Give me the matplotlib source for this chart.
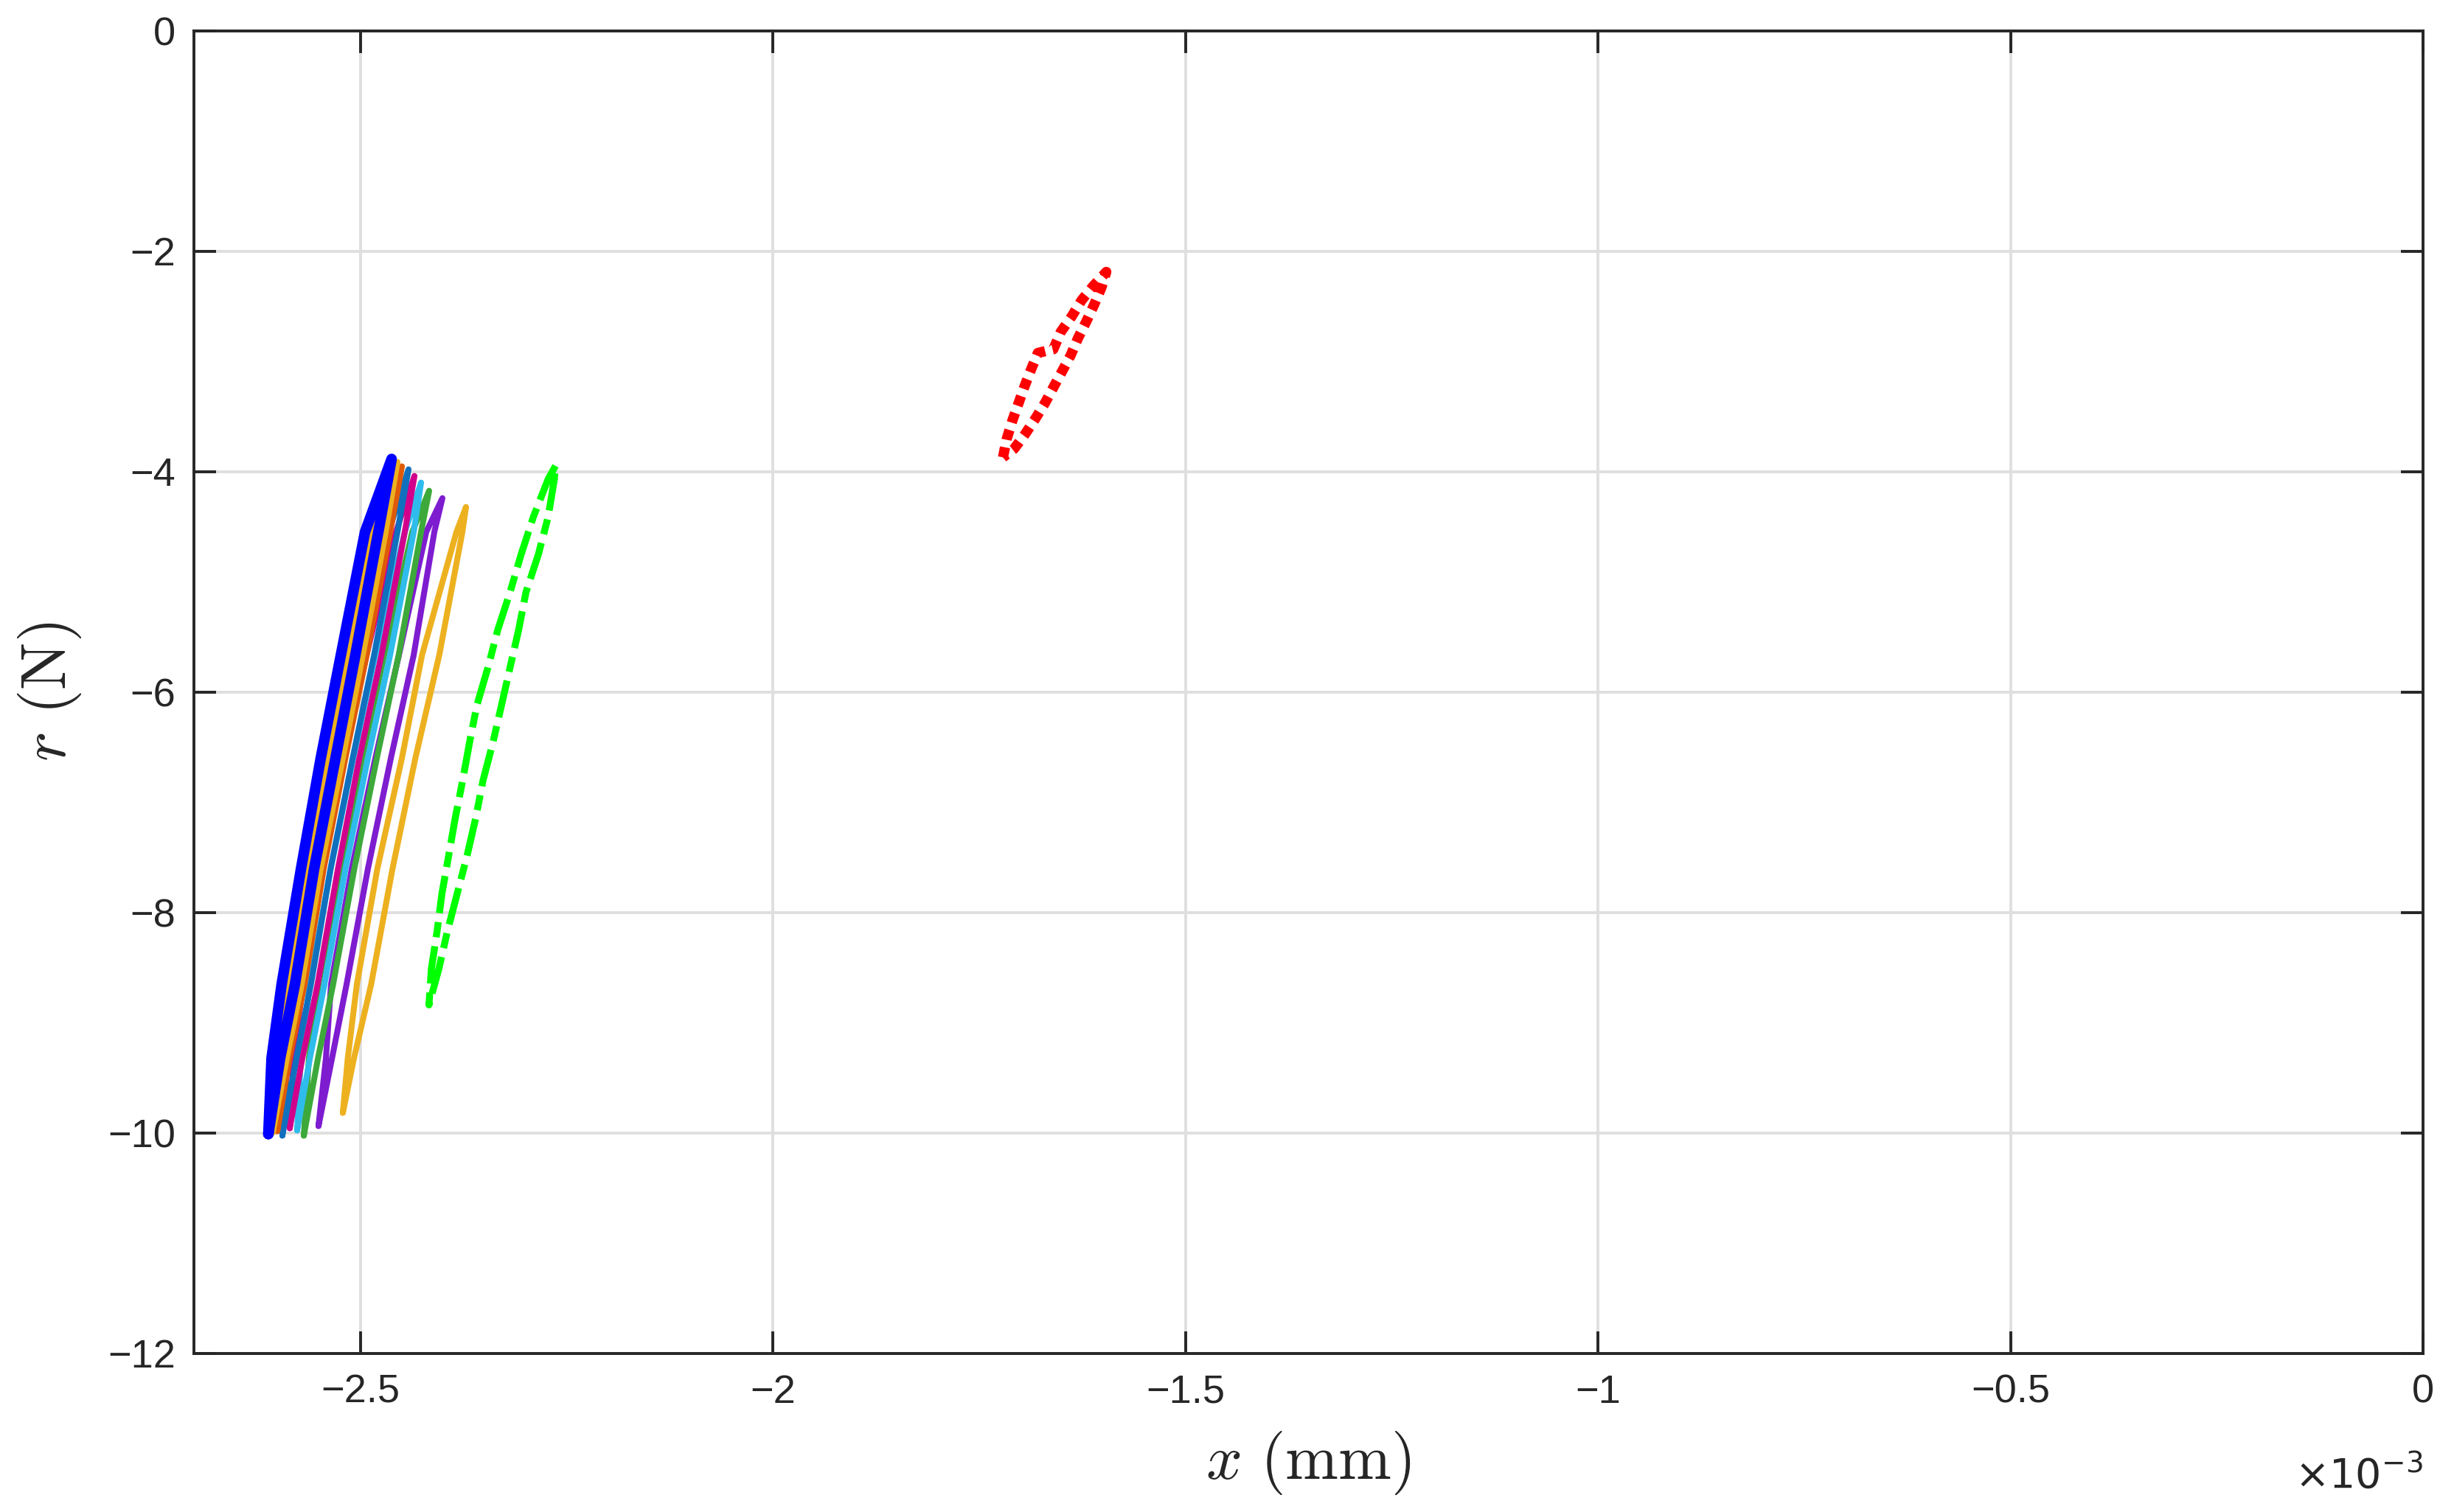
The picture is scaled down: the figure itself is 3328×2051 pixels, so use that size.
#!/usr/bin/env python3
import matplotlib
import numpy as np

matplotlib.use("Agg")
import matplotlib.pyplot as plt
from matplotlib.ticker import FuncFormatter

OUT_FILE = "out.png"
X_SCALE = 1.0e-3  # x values below are in units of 1e-3 mm

# common y levels (N) at which the strands of the transient loops were read
LEVELS_Y = [-9.321, -8.652, -7.603, -6.600, -5.664, -4.548]

# transient loops, drawn first to last (later ones on top)
LOOP_NAMES = ["cycle 1", "cycle 2", "cycle 3", "cycle 4", "cycle 5", "cycle 6", "cycle 7", "cycle 8"]
LOOP_COLORS = ["#EDB120", "#7E1CD0", "#3DA93A", "#2FBCEC", "#D1008C", "#1170BE", "#DE5A08", "#EDB120"]
LOOP_BOTTOM_X = [-2.5215, -2.5510, -2.5688, -2.5769, -2.5858, -2.5948, -2.6010, -2.6064]
LOOP_BOTTOM_Y = [-9.816, -9.936, -10.023, -9.976, -9.956, -10.023, -9.983, -9.996]
LOOP_TOP_X = [-2.3722, -2.4008, -2.4169, -2.4267, -2.4347, -2.4419, -2.4499, -2.4553]
LOOP_TOP_Y = [-4.321, -4.241, -4.174, -4.100, -4.040, -3.980, -3.953, -3.913]
LOOP_LEFT_X = [
    [-2.5155, -2.5045, -2.4797, -2.4499, -2.4255, -2.3838],
    [-2.5420, -2.5358, -2.5107, -2.4821, -2.4535, -2.4204],
    [-2.5626, -2.5510, -2.5244, -2.4982, -2.4714, -2.4374],
    [-2.5724, -2.5617, -2.5362, -2.5089, -2.4821, -2.4464],
    [-2.5814, -2.5697, -2.5456, -2.5197, -2.4928, -2.4571],
    [-2.5885, -2.5778, -2.5545, -2.5277, -2.5018, -2.4660],
    [-2.5965, -2.5840, -2.5626, -2.5367, -2.5107, -2.4750],
    [-2.6028, -2.5876, -2.5644, -2.5393, -2.5152, -2.4857],
]
LOOP_RIGHT_X = [
    [-2.5080, -2.4872, -2.4613, -2.4336, -2.4046, -2.3766],
    [-2.5346, -2.5170, -2.4911, -2.4633, -2.4356, -2.4106],
    [-2.5516, -2.5333, -2.5076, -2.4803, -2.4538, -2.4267],
    [-2.5614, -2.5438, -2.5183, -2.4911, -2.4642, -2.4356],
    [-2.5706, -2.5521, -2.5274, -2.5015, -2.4747, -2.4464],
    [-2.5778, -2.5602, -2.5364, -2.5096, -2.4836, -2.4553],
    [-2.5861, -2.5679, -2.5447, -2.5185, -2.4926, -2.4642],
    [-2.5894, -2.5715, -2.5483, -2.5215, -2.4973, -2.4696],
]

# steady-state loop (thick blue)
STEADY_BOTTOM = (-2.6118, -10.009)
STEADY_TOP = (-2.4624, -3.886)
STEADY_LEFT_X = [-2.6079, -2.5957, -2.5722, -2.5483, -2.5239, -2.4946]
STEADY_RIGHT_X = [-2.5975, -2.5796, -2.5563, -2.5304, -2.5063, -2.4785]

# dash-dot green loop: left strand top->bottom, right strand bottom->top
GREEN_LEFT_X = [-2.2637, -2.2726, -2.2905, -2.3054, -2.3188, -2.3337, -2.3456, -2.3590,
                -2.3680, -2.3763, -2.3853, -2.3933, -2.4014, -2.4073, -2.4142, -2.4171]
GREEN_LEFT_Y = [-3.948, -4.068, -4.410, -4.752, -5.094, -5.436, -5.777, -6.120,
                -6.461, -6.803, -7.145, -7.487, -7.829, -8.171, -8.513, -8.838]
GREEN_RIGHT_X = [-2.4052, -2.3948, -2.3829, -2.3710, -2.3605, -2.3516, -2.3397, -2.3292,
                 -2.3188, -2.3084, -2.2995, -2.2845, -2.2726, -2.2651, -2.2637]
GREEN_RIGHT_Y = [-8.513, -8.171, -7.829, -7.487, -7.145, -6.803, -6.461, -6.120,
                 -5.777, -5.436, -5.094, -4.752, -4.410, -4.068, -3.948]

# dotted red loop: left strand bottom->top, right strand top->bottom
RED_LEFT_X = [-1.7213, -1.7168, -1.7099, -1.7025, -1.6951, -1.6870, -1.6790,
              -1.6602, -1.6513, -1.6378, -1.6259, -1.6125, -1.5961]
RED_LEFT_Y = [-3.871, -3.704, -3.537, -3.381, -3.225, -3.069, -2.924,
              -2.890, -2.734, -2.590, -2.445, -2.322, -2.189]
RED_RIGHT_X = [-1.6021, -1.6110, -1.6200, -1.6304, -1.6393, -1.6497, -1.6602,
               -1.6706, -1.6825, -1.6944, -1.7078, -1.7213]
RED_RIGHT_Y = [-2.333, -2.489, -2.634, -2.790, -2.946, -3.091, -3.236,
               -3.381, -3.525, -3.659, -3.793, -3.871]

X_TICKS = [-2.5, -2.0, -1.5, -1.0, -0.5, 0.0]
Y_TICKS = [0, -2, -4, -6, -8, -10, -12]

AXIS_COLOR = "#262626"
GRID_COLOR = "#DFDFDF"


def closed_loop(bottom, top, left_x, right_x):
    xs = [bottom[0]] + list(left_x) + [top[0]] + list(right_x)[::-1] + [bottom[0]]
    ys = [bottom[1]] + LEVELS_Y + [top[1]] + LEVELS_Y[::-1] + [bottom[1]]
    return np.array(xs) * X_SCALE, np.array(ys)


def tick_label(v, _pos):
    s = f"{round(v / X_SCALE, 6):g}"
    if s == "-0":
        s = "0"
    return s.replace("-", "\u2212")


def main():
    plt.rcParams["font.family"] = ["Liberation Sans", "DejaVu Sans"]
    plt.rcParams["mathtext.fontset"] = "cm"

    fig = plt.figure(figsize=(16.64, 10.255), dpi=200)
    ax = fig.add_axes([263 / 3328, 1 - 1836 / 2051, (3286 - 263) / 3328, (1836 - 41.5) / 2051])

    for i, name in enumerate(LOOP_NAMES):
        x, y = closed_loop((LOOP_BOTTOM_X[i], LOOP_BOTTOM_Y[i]), (LOOP_TOP_X[i], LOOP_TOP_Y[i]),
                           LOOP_LEFT_X[i], LOOP_RIGHT_X[i])
        ax.plot(x, y, color=LOOP_COLORS[i], lw=2.9, solid_capstyle="round",
                solid_joinstyle="round", label=name, zorder=3)

    x, y = closed_loop(STEADY_BOTTOM, STEADY_TOP, STEADY_LEFT_X, STEADY_RIGHT_X)
    ax.plot(x, y, color="#0000FF", lw=5.2, solid_capstyle="round", solid_joinstyle="round", zorder=4)

    gx = np.array(GREEN_LEFT_X + GREEN_RIGHT_X) * X_SCALE
    gy = np.array(GREEN_LEFT_Y + GREEN_RIGHT_Y)
    ax.plot(gx, gy, color="#00FF00", lw=3.4, dashes=(5.4, 1.3, 2.2, 1.3),
            dash_capstyle="butt", zorder=4)

    rx = np.array(RED_LEFT_X + RED_RIGHT_X) * X_SCALE
    ry = np.array(RED_LEFT_Y + RED_RIGHT_Y)
    ax.plot(rx, ry, color="#FF0000", lw=5.0, dashes=(1.0, 0.75), dash_capstyle="butt", zorder=4)

    ax.set_xlim(-2.702 * X_SCALE, 0.0)
    ax.set_ylim(-12, 0)
    ax.set_xticks(np.array(X_TICKS) * X_SCALE)
    ax.set_yticks(Y_TICKS)
    ax.xaxis.set_major_formatter(FuncFormatter(tick_label))
    ax.yaxis.set_major_formatter(FuncFormatter(lambda v, p: f"{v:g}".replace("-", "\u2212")))

    ax.grid(True, color=GRID_COLOR, lw=1.4, zorder=0)
    ax.set_axisbelow(True)
    for sp in ax.spines.values():
        sp.set_color(AXIS_COLOR)
        sp.set_linewidth(1.4)
    ax.tick_params(direction="in", length=10.8, width=1.4, colors=AXIS_COLOR,
                   labelsize=19.5, top=True, right=True)
    ax.tick_params(axis="x", pad=10)
    ax.tick_params(axis="y", pad=9)

    ax.set_xlabel(r"$x\ \mathrm{(mm)}$", fontsize=31, color=AXIS_COLOR, labelpad=9)
    ax.set_ylabel(r"$r\ \mathrm{(N)}$", fontsize=31, color=AXIS_COLOR, labelpad=12)
    ax.text(1.0, -0.108, r"$\times10^{-3}$", transform=ax.transAxes, ha="right", va="bottom",
            fontsize=20, color=AXIS_COLOR, math_fontfamily="dejavusans")

    fig.savefig(OUT_FILE, dpi=200)


if __name__ == "__main__":
    main()
